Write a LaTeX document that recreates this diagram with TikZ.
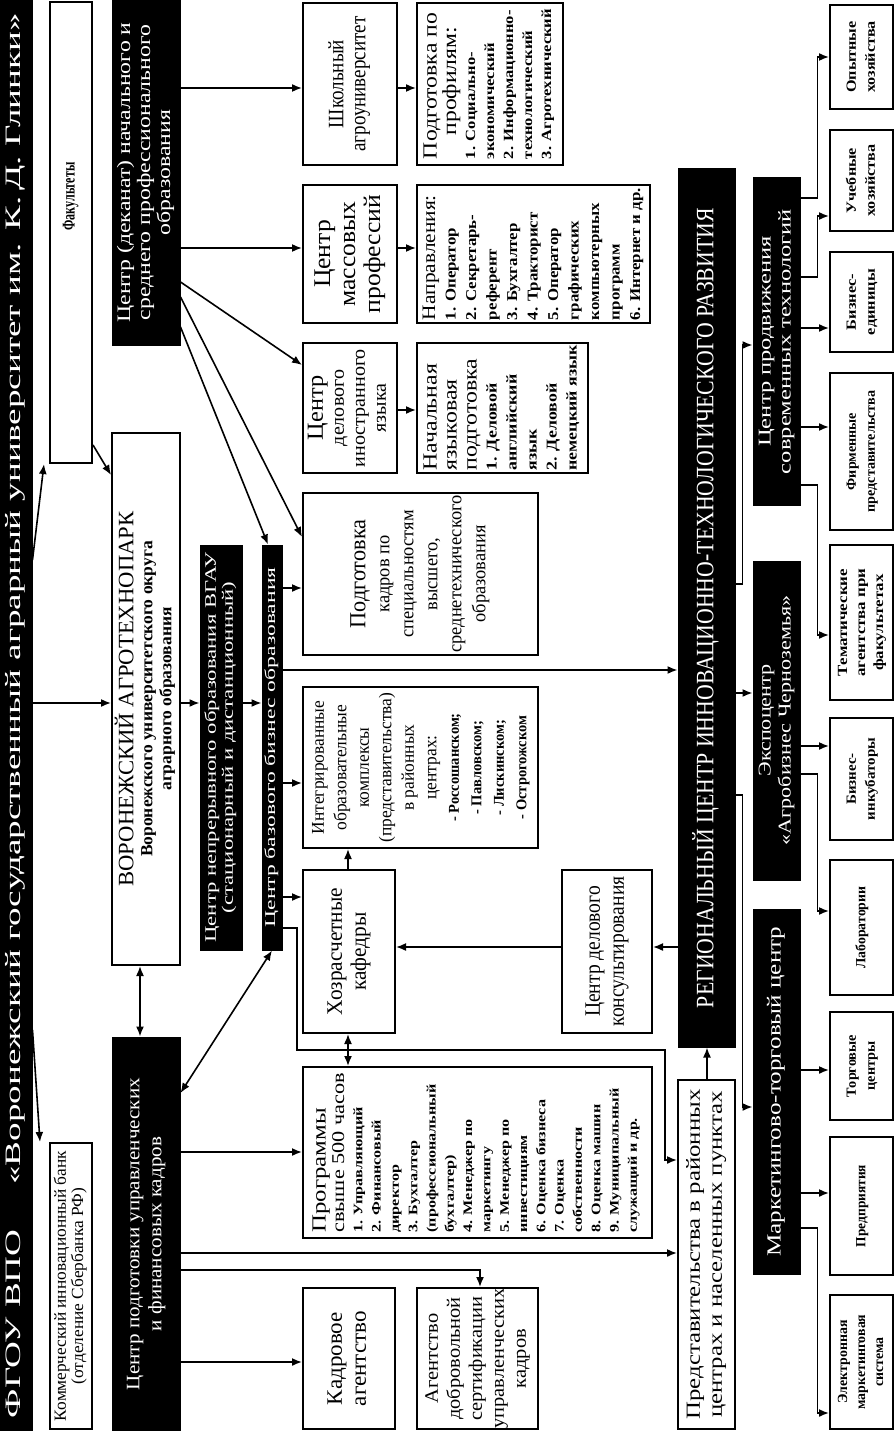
\documentclass[tikz,border=0pt]{standalone}
\usepackage{fontspec}
\setmainfont{Liberation Serif}
\usepackage{graphicx}
\usetikzlibrary{arrows.meta}
\newcommand\TX[5]{\resizebox{#3pt}{\height}{\fontsize{#1}{#2}\selectfont\begin{tabular}{@{}#4@{}}#5\end{tabular}}}
\newcommand\IB[7]{\node[#2, minimum width={(#6-#4)*1pt}, minimum height={(#5-#3)*1pt}] (#1) at ({(#3+#5)/2},{(#4+#6)/2}) {#7};}
\newcommand\LI[1]{{\fontsize{15}{15}\selectfont\bfseries #1}}
\tikzset{
 wb/.style={draw, line width=2pt, rotate=90, inner sep=0pt, fill=white, align=center},
 bb/.style={fill=black, draw=black, line width=1pt, rotate=90, inner sep=0pt, text=white, align=center},
 arr/.style={line width=1.6pt, -{Latex[length=10pt,width=8pt]}},
 darr/.style={line width=1.6pt, {Latex[length=10pt,width=8pt]}-{Latex[length=10pt,width=8pt]}},
 ln/.style={line width=1.6pt},
}
\begin{document}
\begin{tikzpicture}[x=1pt,y=-1pt]
\fill[white] (0,0) rectangle (894,1431);
\useasboundingbox (0,0) rectangle (894,1431);
% column A
\IB{title}{bb}{0}{0}{32}{1431}{\TX{22}{22}{1405}{c}{ФГОУ ВПО\hspace{1.2em}«Воронежский государственный аграрный университет им. К.\,Д. Глинки»}}
% column B
\IB{fak}{wb}{50}{2}{92}{463}{\makebox[140pt][r]{\TX{18}{18}{68}{c}{\bfseries Факультеты}}}
\IB{bank}{wb}{50}{1143}{92}{1429}{\TX{17}{17}{270}{c}{Коммерческий инновационный банк\\(отделение Сбербанка РФ)}}
% column C
\IB{cdek}{bb}{112}{0}{180}{345}{\TX{19}{20}{300}{c}{Центр (деканат) начального и\\среднего профессионального\\образования}}
\IB{atp}{wb}{112}{433}{180}{965}{\TX{17}{19}{375}{c}{{\fontsize{22}{22}\selectfont ВОРОНЕЖСКИЙ АГРОТЕХНОПАРК}\\\bfseries Воронежского университетского округа\\\bfseries аграрного образования}}
\IB{cpod}{bb}{112}{1037}{180}{1431}{\TX{19}{22}{312}{c}{Центр подготовки управленческих\\и финансовых кадров}}
% columns D, E
\IB{cnep}{bb}{200}{545}{242}{950}{\TX{16}{17}{390}{c}{Центр непрерывного образования ВГАУ\\(стационарный и дистанционный)}}
\IB{cbb}{bb}{262}{545}{282}{950}{\TX{15}{15}{360}{c}{Центр базового бизнес образования}}
% column F/G
\IB{shk}{wb}{303}{3}{397}{165}{\TX{22}{22}{135}{c}{Школьный\\агроуниверситет}}
\IB{prof}{wb}{417}{3}{563}{165}{\TX{14}{19}{150}{l}{{\fontsize{20}{20}\selectfont Подготовка по}\\{\fontsize{20}{20}\selectfont\quad профилям:}\\\bfseries 1. Социально-\\\bfseries экономический\\\bfseries 2. Информационно-\\\bfseries технологический\\\bfseries 3. Агротехнический}}
\IB{cmp}{wb}{303}{185}{397}{323}{\TX{24}{25}{118}{c}{Центр\\массовых\\профессий}}
\IB{napr}{wb}{417}{185}{650}{323}{\TX{15}{20.5}{132}{l}{{\fontsize{19}{19}\selectfont Направления:}\\\bfseries 1. Оператор\\\bfseries 2. Секретарь-\\\bfseries референт\\\bfseries 3. Бухгалтер\\\bfseries 4. Тракторист\\\bfseries 5. Оператор\\\bfseries графических\\\bfseries компьютерных\\\bfseries программ\\\bfseries 6. Интернет и др.}}
\IB{cdel}{wb}{303}{343}{397}{473}{\TX{19}{21}{118}{c}{{\fontsize{23}{23}\selectfont Центр}\\делового\\иностранного\\языка}}
\IB{nyaz}{wb}{417}{343}{588}{473}{\TX{15}{20}{125}{l}{{\fontsize{20}{20}\selectfont Начальная}\\{\fontsize{20}{20}\selectfont языковая}\\{\fontsize{20}{20}\selectfont подготовка}\\\bfseries 1. Деловой\\\bfseries английский\\\bfseries язык\\\bfseries 2. Деловой\\\bfseries немецкий язык}}
\IB{pk}{wb}{303}{493}{538}{655}{\TX{19}{24}{157}{c}{{\fontsize{23}{23}\selectfont Подготовка}\\кадров по\\специальностям\\высшего,\\среднетехнического\\образования}}
\IB{integ}{wb}{303}{687}{538}{848}{\TX{18}{22.5}{150}{c}{Интегрированные\\образовательные\\комплексы\\(представительства)\\в районных\\центрах:\\\LI{- Россошанском;}\\\LI{- Павловском;}\\\LI{- Лискинском;}\\\LI{- Острогожском}}}
\IB{hoz}{wb}{303}{870}{395}{1033}{\TX{22}{24}{127}{c}{Хозрасчетные\\кафедры}}
\IB{cdk}{wb}{562}{870}{652}{1033}{\TX{22}{24}{150}{c}{Центр делового\\консультирования}}
\IB{prog}{wb}{303}{1067}{652}{1238}{\TX{13}{18.3}{160}{l}{{\fontsize{20}{19}\selectfont Программы}\\{\fontsize{18}{18}\selectfont свыше 500 часов}\\\bfseries 1. Управляющий\\\bfseries 2. Финансовый\\\bfseries директор\\\bfseries 3. Бухгалтер\\\bfseries (профессиональный\\\bfseries бухгалтер)\\\bfseries 4. Менеджер по\\\bfseries маркетингу\\\bfseries 5. Менеджер по\\\bfseries инвестициям\\\bfseries 6. Оценка бизнеса\\\bfseries 7. Оценка\\\bfseries собственности\\\bfseries 8. Оценка машин\\\bfseries 9. Муниципальный\\\bfseries служащий и др.}}
\IB{kadr}{wb}{303}{1288}{395}{1429}{\TX{22}{24}{95}{c}{Кадровое\\агентство}}
\IB{agen}{wb}{417}{1288}{538}{1429}{\TX{19}{22}{140}{c}{Агентство\\добровольной\\сертификации\\управленческих\\кадров}}
% right part
\IB{reg}{bb}{678}{169}{735}{1047}{\TX{25}{25}{800}{c}{РЕГИОНАЛЬНЫЙ ЦЕНТР ИННОВАЦИОННО-ТЕХНОЛОГИЧЕСКОГО РАЗВИТИЯ}}
\IB{pred}{wb}{678}{1080}{735}{1429}{\TX{20}{22}{330}{c}{Представительства в районных\\центрах и населенных пунктах}}
\IB{cpr}{bb}{753}{178}{800}{505}{\TX{18}{20}{265}{c}{Центр продвижения\\современных технологий}}
\IB{eco}{bb}{753}{561}{800}{880}{\TX{18}{20}{250}{c}{Экспоцентр\\«Агробизнес Черноземья»}}
\IB{mtc}{bb}{753}{909}{800}{1274}{\TX{20}{20}{330}{c}{Маркетингово-торговый центр}}
\IB{op}{wb}{830}{5}{893}{109}{\TX{14}{19}{72}{c}{\bfseries Опытные\\\bfseries хозяйства}}
\IB{ucheb}{wb}{830}{130}{893}{231}{\TX{14}{19}{72}{c}{\bfseries Учебные\\\bfseries хозяйства}}
\IB{bed}{wb}{830}{252}{893}{352}{\TX{14}{19}{66}{c}{\bfseries Бизнес-\\\bfseries единицы}}
\IB{firm}{wb}{830}{373}{893}{530}{\TX{14}{19}{122}{c}{\bfseries Фирменные\\\bfseries представительства}}
\IB{tem}{wb}{830}{545}{893}{700}{\TX{14}{18}{108}{c}{\bfseries Тематические\\\bfseries агентства при\\\bfseries факультетах}}
\IB{binc}{wb}{830}{718}{893}{840}{\TX{14}{19}{82}{c}{\bfseries Бизнес-\\\bfseries инкубаторы}}
\IB{lab}{wb}{830}{860}{893}{995}{\TX{14}{19}{82}{c}{\bfseries Лаборатории}}
\IB{torg}{wb}{830}{1012}{893}{1120}{\TX{14}{19}{62}{c}{\bfseries Торговые\\\bfseries центры}}
\IB{pre}{wb}{830}{1137}{893}{1275}{\TX{14}{19}{82}{c}{\bfseries Предприятия}}
\IB{el}{wb}{830}{1295}{893}{1429}{\TX{14}{18}{95}{c}{\bfseries Электронная\\\bfseries маркетинговая\\\bfseries система}}
% connectors: title
\draw[arr] (title.south |- 0,703) -- (atp.north |- 0,703);
\draw[arr] (title.south |- 0,560) -- (fak.west -| 44,0);
\draw[arr] (title.south |- 0,1030) -- (bank.east -| 40,0);
\draw[arr] (fak.south |- 0,445) -- (atp.north |- 0,475);
% centre dekanat
\draw[arr] (cdek.south |- 0,88) -- (shk.north |- 0,88);
\draw[arr] (cdek.south |- 0,248) -- (cmp.north |- 0,248);
\draw[arr] (cdek.south |- 0,282) -- (cdel.north |- 0,365);
\draw[arr] (cdek.south |- 0,297) -- (pk.north |- 0,537);
\draw[arr] (cdek.south |- 0,327) -- (cbb.east -| 268,0);
\draw[arr] (shk.south |- 0,88) -- (prof.north |- 0,88);
\draw[arr] (cmp.south |- 0,248) -- (napr.north |- 0,248);
\draw[arr] (cdel.south |- 0,410) -- (nyaz.north |- 0,410);
% agrotechnopark
\draw[arr] (atp.south |- 0,703) -- (cnep.north |- 0,703);
\draw[arr] (cnep.south |- 0,703) -- (cbb.north |- 0,703);
\draw[darr] (atp.west -| 140,0) -- (cpod.east -| 140,0);
% centre of base business education
\draw[arr] (cbb.south |- 0,588) -- (pk.north |- 0,588);
\draw[arr] (cbb.south |- 0,670) -- (reg.north |- 0,670);
\draw[arr] (cbb.south |- 0,783) -- (integ.north |- 0,783);
\draw[arr] (cbb.south |- 0,897) -- (hoz.north |- 0,897);
\draw[arr] (cbb.south |- 0,928) -| (297,1050) -- (665,1050) |- (pred.north |- 0,1160);
\draw[darr] (cbb.west -| 272,0) -- (cpod.south |- 0,1093);
\draw[arr] (hoz.east -| 348,0) -- (integ.west -| 348,0);
\draw[darr] (hoz.west -| 348,0) -- (prog.east -| 348,0);
\draw[arr] (cdk.north |- 0,947) -- (hoz.south |- 0,947);
\draw[arr] (reg.north |- 0,947) -- (cdk.south |- 0,947);
\draw[arr] (pred.east -| 707,0) -- (reg.west -| 707,0);
% centre of managerial staff
\draw[arr] (cpod.south |- 0,1152) -- (prog.north |- 0,1152);
\draw[arr] (cpod.south |- 0,1253) -- (pred.north |- 0,1253);
\draw[arr] (cpod.south |- 0,1270) -| (agen.east -| 480,0);
\draw[arr] (cpod.south |- 0,1362) -- (kadr.north |- 0,1362);
% regional centre
\draw[arr] (reg.south |- 0,584) -- ++(7,0) |- (cpr.north |- 0,345);
\draw[arr] (reg.south |- 0,693) -- (eco.north |- 0,693);
\draw[arr] (reg.south |- 0,795) -- ++(7,0) |- (mtc.north |- 0,1107);
\draw[arr] (cpr.south |- 0,198) -- ++(17,0) |- (op.north |- 0,57);
\draw[arr] (cpr.south |- 0,277) -- ++(17,0) |- (ucheb.north |- 0,216);
\draw[arr] (cpr.south |- 0,328) -- (bed.north |- 0,328);
\draw[arr] (cpr.south |- 0,427) -- (firm.north |- 0,427);
\draw[arr] (cpr.south |- 0,485) -- ++(17,0) |- (tem.north |- 0,635);
\draw[arr] (eco.south |- 0,746) -- (binc.north |- 0,746);
\draw[arr] (eco.south |- 0,774) -- ++(17,0) |- (lab.north |- 0,911);
\draw[arr] (mtc.south |- 0,1070) -- (torg.north |- 0,1070);
\draw[arr] (mtc.south |- 0,1193) -- (pre.north |- 0,1193);
\draw[arr] (mtc.south |- 0,1228) -- ++(17,0) |- (el.north |- 0,1413);
\end{tikzpicture}
\end{document}
